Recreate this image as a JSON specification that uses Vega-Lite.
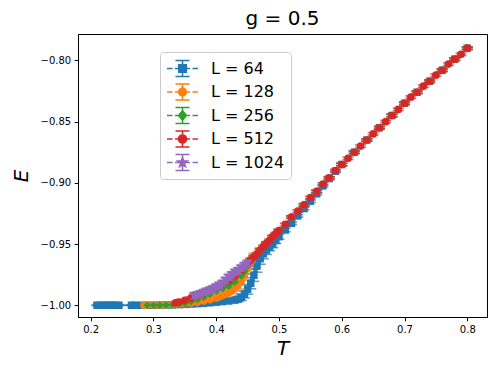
{
  "$schema": "https://vega.github.io/schema/vega-lite/v6.json",
  "width": 409,
  "height": 283,
  "autosize": "none",
  "padding": {"left": 78, "top": 34, "right": 11, "bottom": 57},
  "background": "white",
  "title": {"text": "g = 0.5", "font": "DejaVu Sans", "fontSize": 20, "fontWeight": "normal", "color": "black", "anchor": "middle", "offset": 5},
  "data": {"values": [
    {"L":64,"T":0.21,"E":-1.0,"err":0.0003},{"L":64,"T":0.215,"E":-1.0,"err":0.0003},{"L":64,"T":0.22,"E":-1.0,"err":0.0003},{"L":64,"T":0.225,"E":-1.0,"err":0.0003},{"L":64,"T":0.23,"E":-1.0,"err":0.0003},{"L":64,"T":0.235,"E":-1.0,"err":0.0003},{"L":64,"T":0.24,"E":-1.0,"err":0.0003},{"L":64,"T":0.245,"E":-1.0,"err":0.0003},
    {"L":64,"T":0.265,"E":-1.0,"err":0.0003},{"L":64,"T":0.27,"E":-1.0,"err":0.0003},{"L":64,"T":0.28,"E":-1.0,"err":0.0003},{"L":64,"T":0.29,"E":-1.0,"err":0.0003},{"L":64,"T":0.30,"E":-1.0,"err":0.0003},{"L":64,"T":0.31,"E":-0.9999,"err":0.0003},{"L":64,"T":0.32,"E":-0.9998,"err":0.0003},{"L":64,"T":0.33,"E":-0.9997,"err":0.0003},{"L":64,"T":0.34,"E":-0.9995,"err":0.0004},{"L":64,"T":0.35,"E":-0.9993,"err":0.0004},{"L":64,"T":0.36,"E":-0.999,"err":0.0005},{"L":64,"T":0.37,"E":-0.9987,"err":0.0005},{"L":64,"T":0.38,"E":-0.9984,"err":0.0006},{"L":64,"T":0.39,"E":-0.998,"err":0.0007},{"L":64,"T":0.40,"E":-0.9975,"err":0.0008},{"L":64,"T":0.41,"E":-0.997,"err":0.0009},{"L":64,"T":0.42,"E":-0.9965,"err":0.001},{"L":64,"T":0.43,"E":-0.9958,"err":0.0015},{"L":64,"T":0.435,"E":-0.995,"err":0.002},{"L":64,"T":0.44,"E":-0.9935,"err":0.0025},{"L":64,"T":0.445,"E":-0.991,"err":0.003},{"L":64,"T":0.45,"E":-0.987,"err":0.004},{"L":64,"T":0.455,"E":-0.982,"err":0.0045},{"L":64,"T":0.46,"E":-0.9755,"err":0.005},{"L":64,"T":0.465,"E":-0.968,"err":0.005},{"L":64,"T":0.47,"E":-0.962,"err":0.0045},{"L":64,"T":0.475,"E":-0.958,"err":0.004},{"L":64,"T":0.48,"E":-0.955,"err":0.0035},{"L":64,"T":0.485,"E":-0.9525,"err":0.003},{"L":64,"T":0.49,"E":-0.95,"err":0.003},{"L":64,"T":0.495,"E":-0.947,"err":0.0025},{"L":64,"T":0.50,"E":-0.944,"err":0.002},{"L":64,"T":0.51,"E":-0.9385,"err":0.0015},{"L":64,"T":0.52,"E":-0.933,"err":0.001},{"L":64,"T":0.53,"E":-0.927,"err":0.001},{"L":64,"T":0.54,"E":-0.921,"err":0.001},{"L":64,"T":0.55,"E":-0.915,"err":0.001},{"L":64,"T":0.56,"E":-0.909,"err":0.001},{"L":64,"T":0.57,"E":-0.9025,"err":0.001},{"L":64,"T":0.58,"E":-0.8965,"err":0.001},{"L":64,"T":0.59,"E":-0.8905,"err":0.001},{"L":64,"T":0.60,"E":-0.885,"err":0.001},{"L":64,"T":0.62,"E":-0.875,"err":0.001},{"L":64,"T":0.64,"E":-0.865,"err":0.001},{"L":64,"T":0.66,"E":-0.855,"err":0.001},{"L":64,"T":0.68,"E":-0.845,"err":0.001},{"L":64,"T":0.70,"E":-0.835,"err":0.001},{"L":64,"T":0.72,"E":-0.826,"err":0.001},{"L":64,"T":0.74,"E":-0.817,"err":0.001},{"L":64,"T":0.76,"E":-0.808,"err":0.001},{"L":64,"T":0.78,"E":-0.799,"err":0.001},{"L":64,"T":0.80,"E":-0.790,"err":0.001},
    {"L":128,"T":0.285,"E":-1.0,"err":0.0003},{"L":128,"T":0.29,"E":-1.0,"err":0.0003},{"L":128,"T":0.30,"E":-1.0,"err":0.0003},{"L":128,"T":0.31,"E":-0.9999,"err":0.0003},{"L":128,"T":0.32,"E":-0.9998,"err":0.0003},{"L":128,"T":0.33,"E":-0.9996,"err":0.0003},{"L":128,"T":0.34,"E":-0.9993,"err":0.0004},{"L":128,"T":0.35,"E":-0.9988,"err":0.0005},{"L":128,"T":0.36,"E":-0.9982,"err":0.0006},{"L":128,"T":0.37,"E":-0.9975,"err":0.0007},{"L":128,"T":0.38,"E":-0.9966,"err":0.0008},{"L":128,"T":0.39,"E":-0.9955,"err":0.001},{"L":128,"T":0.40,"E":-0.994,"err":0.0012},{"L":128,"T":0.405,"E":-0.993,"err":0.0013},{"L":128,"T":0.41,"E":-0.992,"err":0.0014},{"L":128,"T":0.415,"E":-0.991,"err":0.0015},{"L":128,"T":0.42,"E":-0.9895,"err":0.0016},{"L":128,"T":0.425,"E":-0.988,"err":0.002},{"L":128,"T":0.43,"E":-0.986,"err":0.0025},{"L":128,"T":0.435,"E":-0.9835,"err":0.003},{"L":128,"T":0.44,"E":-0.98,"err":0.0035},{"L":128,"T":0.445,"E":-0.9755,"err":0.004},{"L":128,"T":0.45,"E":-0.970,"err":0.004},{"L":128,"T":0.455,"E":-0.9645,"err":0.0035},{"L":128,"T":0.46,"E":-0.9605,"err":0.003},{"L":128,"T":0.47,"E":-0.955,"err":0.002},{"L":128,"T":0.48,"E":-0.9495,"err":0.0015},{"L":128,"T":0.49,"E":-0.944,"err":0.001},{"L":128,"T":0.50,"E":-0.939,"err":0.001},{"L":128,"T":0.52,"E":-0.928,"err":0.001},{"L":128,"T":0.54,"E":-0.918,"err":0.001},{"L":128,"T":0.56,"E":-0.907,"err":0.001},{"L":128,"T":0.58,"E":-0.896,"err":0.001},{"L":128,"T":0.60,"E":-0.885,"err":0.001},{"L":128,"T":0.62,"E":-0.875,"err":0.001},{"L":128,"T":0.64,"E":-0.865,"err":0.001},{"L":128,"T":0.66,"E":-0.855,"err":0.001},{"L":128,"T":0.68,"E":-0.845,"err":0.001},{"L":128,"T":0.70,"E":-0.835,"err":0.001},{"L":128,"T":0.72,"E":-0.826,"err":0.001},{"L":128,"T":0.74,"E":-0.817,"err":0.001},{"L":128,"T":0.76,"E":-0.808,"err":0.001},{"L":128,"T":0.78,"E":-0.799,"err":0.001},{"L":128,"T":0.80,"E":-0.790,"err":0.001},
    {"L":256,"T":0.29,"E":-1.0,"err":0.0003},{"L":256,"T":0.30,"E":-1.0,"err":0.0003},{"L":256,"T":0.31,"E":-0.9999,"err":0.0003},{"L":256,"T":0.32,"E":-0.9998,"err":0.0003},{"L":256,"T":0.33,"E":-0.9996,"err":0.0003},{"L":256,"T":0.34,"E":-0.9993,"err":0.0004},{"L":256,"T":0.35,"E":-0.9985,"err":0.0005},{"L":256,"T":0.36,"E":-0.997,"err":0.0006},{"L":256,"T":0.37,"E":-0.9955,"err":0.0008},{"L":256,"T":0.38,"E":-0.9935,"err":0.001},{"L":256,"T":0.39,"E":-0.991,"err":0.0012},{"L":256,"T":0.40,"E":-0.9885,"err":0.0014},{"L":256,"T":0.41,"E":-0.9865,"err":0.0016},{"L":256,"T":0.42,"E":-0.9845,"err":0.0018},{"L":256,"T":0.43,"E":-0.981,"err":0.002},{"L":256,"T":0.44,"E":-0.976,"err":0.002},{"L":256,"T":0.445,"E":-0.9725,"err":0.002},{"L":256,"T":0.45,"E":-0.968,"err":0.002},{"L":256,"T":0.455,"E":-0.964,"err":0.0018},{"L":256,"T":0.46,"E":-0.9605,"err":0.0015},{"L":256,"T":0.47,"E":-0.955,"err":0.0012},{"L":256,"T":0.48,"E":-0.9495,"err":0.001},{"L":256,"T":0.49,"E":-0.944,"err":0.001},{"L":256,"T":0.50,"E":-0.939,"err":0.001},{"L":256,"T":0.52,"E":-0.928,"err":0.001},{"L":256,"T":0.54,"E":-0.918,"err":0.001},{"L":256,"T":0.56,"E":-0.907,"err":0.001},{"L":256,"T":0.58,"E":-0.896,"err":0.001},{"L":256,"T":0.60,"E":-0.885,"err":0.001},{"L":256,"T":0.62,"E":-0.875,"err":0.001},{"L":256,"T":0.64,"E":-0.865,"err":0.001},{"L":256,"T":0.66,"E":-0.855,"err":0.001},{"L":256,"T":0.68,"E":-0.845,"err":0.001},{"L":256,"T":0.70,"E":-0.835,"err":0.001},{"L":256,"T":0.72,"E":-0.826,"err":0.001},{"L":256,"T":0.74,"E":-0.817,"err":0.001},{"L":256,"T":0.76,"E":-0.808,"err":0.001},{"L":256,"T":0.78,"E":-0.799,"err":0.001},{"L":256,"T":0.80,"E":-0.790,"err":0.001},
    {"L":512,"T":0.335,"E":-0.998,"err":0.0005},{"L":512,"T":0.34,"E":-0.9975,"err":0.0005},{"L":512,"T":0.35,"E":-0.996,"err":0.0006},{"L":512,"T":0.36,"E":-0.994,"err":0.0008},{"L":512,"T":0.37,"E":-0.992,"err":0.001},{"L":512,"T":0.38,"E":-0.990,"err":0.0012},{"L":512,"T":0.39,"E":-0.988,"err":0.0014},{"L":512,"T":0.40,"E":-0.9855,"err":0.0015},{"L":512,"T":0.41,"E":-0.983,"err":0.0015},{"L":512,"T":0.42,"E":-0.980,"err":0.0015},{"L":512,"T":0.43,"E":-0.976,"err":0.0015},{"L":512,"T":0.44,"E":-0.9715,"err":0.0015},{"L":512,"T":0.45,"E":-0.966,"err":0.0012},{"L":512,"T":0.455,"E":-0.963,"err":0.001},{"L":512,"T":0.46,"E":-0.9605,"err":0.001},{"L":512,"T":0.465,"E":-0.958,"err":0.001},{"L":512,"T":0.47,"E":-0.955,"err":0.001},{"L":512,"T":0.475,"E":-0.952,"err":0.001},{"L":512,"T":0.48,"E":-0.9495,"err":0.001},{"L":512,"T":0.485,"E":-0.947,"err":0.001},{"L":512,"T":0.49,"E":-0.944,"err":0.001},{"L":512,"T":0.495,"E":-0.9415,"err":0.001},{"L":512,"T":0.50,"E":-0.939,"err":0.001},{"L":512,"T":0.51,"E":-0.934,"err":0.001},{"L":512,"T":0.52,"E":-0.928,"err":0.001},{"L":512,"T":0.53,"E":-0.923,"err":0.001},{"L":512,"T":0.54,"E":-0.918,"err":0.001},{"L":512,"T":0.55,"E":-0.912,"err":0.001},{"L":512,"T":0.56,"E":-0.907,"err":0.001},{"L":512,"T":0.57,"E":-0.901,"err":0.001},{"L":512,"T":0.58,"E":-0.896,"err":0.001},{"L":512,"T":0.59,"E":-0.890,"err":0.001},{"L":512,"T":0.60,"E":-0.885,"err":0.001},{"L":512,"T":0.61,"E":-0.880,"err":0.001},{"L":512,"T":0.62,"E":-0.875,"err":0.001},{"L":512,"T":0.63,"E":-0.870,"err":0.001},{"L":512,"T":0.64,"E":-0.865,"err":0.001},{"L":512,"T":0.65,"E":-0.860,"err":0.001},{"L":512,"T":0.66,"E":-0.855,"err":0.001},{"L":512,"T":0.67,"E":-0.850,"err":0.001},{"L":512,"T":0.68,"E":-0.845,"err":0.001},{"L":512,"T":0.69,"E":-0.840,"err":0.001},{"L":512,"T":0.70,"E":-0.835,"err":0.001},{"L":512,"T":0.71,"E":-0.830,"err":0.001},{"L":512,"T":0.72,"E":-0.826,"err":0.001},{"L":512,"T":0.73,"E":-0.821,"err":0.001},{"L":512,"T":0.74,"E":-0.817,"err":0.001},{"L":512,"T":0.75,"E":-0.812,"err":0.001},{"L":512,"T":0.76,"E":-0.808,"err":0.001},{"L":512,"T":0.77,"E":-0.803,"err":0.001},{"L":512,"T":0.78,"E":-0.799,"err":0.001},{"L":512,"T":0.79,"E":-0.795,"err":0.001},{"L":512,"T":0.80,"E":-0.790,"err":0.001},
    {"L":1024,"T":0.365,"E":-0.9925,"err":0.0025},{"L":1024,"T":0.37,"E":-0.9918,"err":0.0025},{"L":1024,"T":0.375,"E":-0.991,"err":0.0025},{"L":1024,"T":0.38,"E":-0.990,"err":0.0025},{"L":1024,"T":0.385,"E":-0.989,"err":0.0025},{"L":1024,"T":0.39,"E":-0.988,"err":0.0025},{"L":1024,"T":0.395,"E":-0.987,"err":0.0025},{"L":1024,"T":0.40,"E":-0.9855,"err":0.0025},{"L":1024,"T":0.405,"E":-0.984,"err":0.0025},{"L":1024,"T":0.41,"E":-0.9825,"err":0.0025},{"L":1024,"T":0.415,"E":-0.980,"err":0.0025},{"L":1024,"T":0.42,"E":-0.9775,"err":0.0025},{"L":1024,"T":0.425,"E":-0.9755,"err":0.0025},{"L":1024,"T":0.43,"E":-0.9735,"err":0.0025},{"L":1024,"T":0.435,"E":-0.972,"err":0.0025},{"L":1024,"T":0.44,"E":-0.970,"err":0.0025},{"L":1024,"T":0.445,"E":-0.968,"err":0.0025},{"L":1024,"T":0.45,"E":-0.966,"err":0.0025}
  ]},
  "encoding": {
    "x": {"field": "T", "type": "quantitative", "scale": {"domain": [0.1798, 0.8314], "nice": false, "zero": false},
      "axis": {"title": "T", "values": [0.2, 0.3, 0.4, 0.5, 0.6, 0.7, 0.8], "format": ".1f", "titlePadding": 4}},
    "y": {"field": "E", "type": "quantitative", "scale": {"domain": [-1.0096, -0.7784], "nice": false, "zero": false},
      "axis": {"title": "E", "values": [-1.0, -0.95, -0.9, -0.85, -0.8], "format": ".2f", "titlePadding": 9}}
  },
  "layer": [
    {
      "mark": {"type": "line", "strokeDash": [6, 2.6], "strokeWidth": 1.6},
      "encoding": {"color": {"field": "L", "type": "nominal", "scale": {"domain": [64, 128, 256, 512, 1024], "range": ["#1f77b4", "#ff7f0e", "#2ca02c", "#d62728", "#9467bd"]}, "legend": null}}
    },
    {
      "mark": {"type": "errorbar", "thickness": 1.6, "ticks": {"size": 11, "thickness": 1.6}},
      "encoding": {
        "y": {"field": "E", "type": "quantitative"},
        "yError": {"field": "err"},
        "color": {"field": "L", "type": "nominal", "legend": null}
      }
    },
    {
      "mark": {"type": "point", "filled": true, "opacity": 1},
      "encoding": {
        "color": {"field": "L", "type": "nominal", "legend": null},
        "size": {"field": "L", "type": "nominal", "legend": null, "scale": {"domain": [64, 128, 256, 512, 1024], "range": [56, 60, 80, 80, 95]}},
        "shape": {"field": "L", "type": "nominal", "legend": null, "scale": {"domain": [64, 128, 256, 512, 1024], "range": ["square", "circle", "diamond", "circle", "triangle-up"]}}
      }
    },
    {
      "transform": [{"filter": "datum.L == 1024"}],
      "mark": {"type": "point", "filled": true, "opacity": 1, "shape": "triangle-down", "size": 95},
      "encoding": {
        "color": {"field": "L", "type": "nominal", "legend": null}
      }
    },
    {
      "mark": {"type": "point", "filled": true, "opacity": 0, "size": 1},
      "encoding": {
        "fill": {"field": "L", "type": "nominal", "scale": {"domain": [64, 128, 256, 512, 1024], "range": ["#1f77b4", "#ff7f0e", "#2ca02c", "#d62728", "#9467bd"]},
          "legend": {"title": null, "orient": "none", "legendX": 82, "legendY": 18, "padding": 6, "strokeColor": "#cccccc", "fillColor": "rgba(255,255,255,0.8)", "cornerRadius": 3, "symbolSize": 961, "symbolStrokeWidth": 1.6, "symbolOpacity": 1, "clipHeight": 21, "rowPadding": 2.5, "labelFont": "DejaVu Sans", "labelFontSize": 16, "labelColor": "black", "labelOffset": 12, "labelExpr": "'L = ' + datum.label"}},
        "stroke": {"field": "L", "type": "nominal", "scale": {"domain": [64, 128, 256, 512, 1024], "range": ["#1f77b4", "#ff7f0e", "#2ca02c", "#d62728", "#9467bd"]}, "legend": {"title": null}},
        "shape": {"field": "L", "type": "nominal", "legend": {"title": null}, "scale": {"domain": [64, 128, 256, 512, 1024], "range": [
          "M-1,0H-0.645M-0.484,0H-0.129M0.129,0H0.484M0.645,0H1M0,-0.516V0.516M-0.452,-0.516H0.452M-0.452,0.516H0.452M-0.242,-0.242H0.242V0.242H-0.242ZM-0.242,-0.16H0.242M-0.242,-0.08H0.242M-0.242,0H0.242M-0.242,0.08H0.242M-0.242,0.16H0.242",
          "M-1,0H-0.645M-0.484,0H-0.129M0.129,0H0.484M0.645,0H1M0,-0.516V0.516M-0.452,-0.516H0.452M-0.452,0.516H0.452M0.25,0A0.25,0.25,0,1,1,-0.25,0A0.25,0.25,0,1,1,0.25,0ZM-0.192,-0.16H0.192M-0.237,-0.08H0.237M-0.25,0H0.25M-0.237,0.08H0.237M-0.192,0.16H0.192",
          "M-1,0H-0.645M-0.484,0H-0.129M0.129,0H0.484M0.645,0H1M0,-0.516V0.516M-0.452,-0.516H0.452M-0.452,0.516H0.452M0,-0.3L0.25,0L0,0.3L-0.25,0ZM-0.05,-0.24H0.05M-0.117,-0.16H0.117M-0.183,-0.08H0.183M-0.25,0H0.25M-0.183,0.08H0.183M-0.117,0.16H0.117M-0.05,0.24H0.05",
          "M-1,0H-0.645M-0.484,0H-0.129M0.129,0H0.484M0.645,0H1M0,-0.516V0.516M-0.452,-0.516H0.452M-0.452,0.516H0.452M0.26,0A0.26,0.26,0,1,1,-0.26,0A0.26,0.26,0,1,1,0.26,0ZM-0.2,-0.16H0.2M-0.246,-0.08H0.246M-0.26,0H0.26M-0.246,0.08H0.246M-0.2,0.16H0.2",
          "M-1,0H-0.645M-0.484,0H-0.129M0.129,0H0.484M0.645,0H1M0,-0.516V0.516M-0.452,-0.516H0.452M-0.452,0.516H0.452M0,-0.32L0.076,-0.105L0.304,-0.099L0.124,0.04L0.188,0.259L0,0.13L-0.188,0.259L-0.124,0.04L-0.304,-0.099L-0.076,-0.105ZM-0.04,-0.2H0.04M-0.07,-0.12H0.07M-0.25,-0.08H0.25M-0.17,-0.01H0.17M-0.13,0.06H0.13M-0.14,0.13H-0.06M0.06,0.13H0.14"
        ]}}
      }
    }
  ],
  "resolve": {"scale": {"shape": "independent", "fill": "independent", "stroke": "independent", "size": "independent"}},
  "config": {
    "view": {"stroke": "black", "strokeWidth": 1},
    "axis": {"domainColor": "black", "domainWidth": 1, "tickColor": "black", "tickSize": 3.8, "tickWidth": 1, "labelColor": "black", "labelFont": "DejaVu Sans", "labelFontSize": 10, "labelPadding": 3.5, "grid": false, "titleFont": "DejaVu Sans", "titleFontSize": 20, "titleFontWeight": "normal", "titleFontStyle": "italic", "titleColor": "black"},
    "legend": {"symbolLimit": 0}
  }
}
